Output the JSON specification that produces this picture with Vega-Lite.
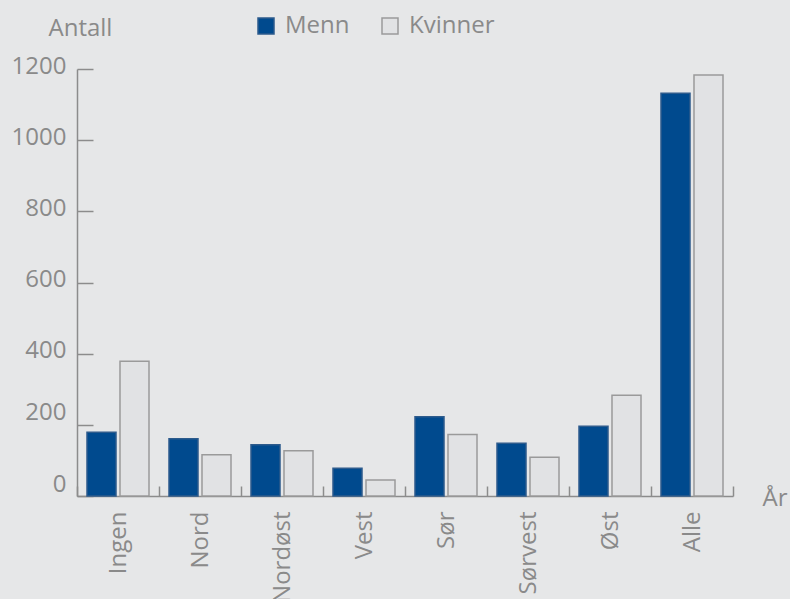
{
  "$schema": "https://vega.github.io/schema/vega-lite/v6.json",
  "width": 656,
  "height": 427,
  "autosize": "none",
  "padding": {"left": 77, "top": 69, "right": 57, "bottom": 103},
  "background": "#e6e7e8",
  "config": {
    "view": {"stroke": null},
    "font": "Open Sans",
    "axis": {"labelFont": "Open Sans", "titleFont": "Open Sans", "labelColor": "#8a8a8a", "titleColor": "#8a8a8a", "domainColor": "#8c8c8c", "tickColor": "#8c8c8c", "domainWidth": 1.5, "tickWidth": 1.5, "labelFontSize": 24, "titleFontSize": 24, "titleFontWeight": "normal", "grid": false}
  },
  "data": {
    "values": [
      {"region": "Ingen", "kjonn": "Menn", "antall": 179},
      {"region": "Ingen", "kjonn": "Kvinner", "antall": 379},
      {"region": "Nord", "kjonn": "Menn", "antall": 161},
      {"region": "Nord", "kjonn": "Kvinner", "antall": 116},
      {"region": "Nordøst", "kjonn": "Menn", "antall": 144},
      {"region": "Nordøst", "kjonn": "Kvinner", "antall": 127},
      {"region": "Vest", "kjonn": "Menn", "antall": 78},
      {"region": "Vest", "kjonn": "Kvinner", "antall": 45},
      {"region": "Sør", "kjonn": "Menn", "antall": 223},
      {"region": "Sør", "kjonn": "Kvinner", "antall": 173},
      {"region": "Sørvest", "kjonn": "Menn", "antall": 148},
      {"region": "Sørvest", "kjonn": "Kvinner", "antall": 109},
      {"region": "Øst", "kjonn": "Menn", "antall": 196},
      {"region": "Øst", "kjonn": "Kvinner", "antall": 283},
      {"region": "Alle", "kjonn": "Menn", "antall": 1132},
      {"region": "Alle", "kjonn": "Kvinner", "antall": 1183}
    ]
  },
  "mark": {"type": "bar", "strokeWidth": 1.5},
  "encoding": {
    "x": {
      "field": "region", "type": "nominal",
      "sort": ["Ingen", "Nord", "Nordøst", "Vest", "Sør", "Sørvest", "Øst", "Alle"],
      "scale": {"paddingInner": 0, "paddingOuter": 0},
      "axis": {"title": "År", "titleAlign": "left", "titleBaseline": "middle", "titleX": 685, "titleY": 2, "titleAngle": 0, "labelAngle": -90, "labelAlign": "right", "labelBaseline": "middle", "tickBand": "extent", "tickSize": -10, "labelPadding": 25}
    },
    "xOffset": {
      "field": "kjonn", "type": "nominal", "sort": ["Menn", "Kvinner"],
      "scale": {"paddingInner": 0.121, "paddingOuter": 0.303}
    },
    "y": {
      "field": "antall", "type": "quantitative",
      "scale": {"domain": [0, 1200], "nice": false},
      "axis": {"title": "Antall", "titleAngle": 0, "titleAlign": "left", "titleBaseline": "alphabetic", "titleX": -29, "titleY": -34, "values": [0, 200, 400, 600, 800, 1000, 1200], "format": "d", "tickSize": -16, "labelPadding": 27, "labelOffset": {"expr": "datum.value <= 200 ? -12 : -3"}}
    },
    "color": {
      "field": "kjonn", "type": "nominal", "sort": ["Menn", "Kvinner"],
      "scale": {"domain": ["Menn", "Kvinner"], "range": ["#004a8e", "#e1e2e4"]},
      "legend": {"title": null, "orient": "none", "legendX": 177, "legendY": -55, "direction": "horizontal", "symbolType": "square", "symbolSize": 256, "symbolStrokeWidth": 1.5, "labelFont": "Open Sans", "labelFontSize": 24, "labelColor": "#8a8a8a", "labelOffset": 7, "columnPadding": 28, "symbolOpacity": 1}
    },
    "stroke": {
      "field": "kjonn", "type": "nominal", "sort": ["Menn", "Kvinner"],
      "scale": {"domain": ["Menn", "Kvinner"], "range": ["#2d5b8c", "#9a9a9a"]}
    }
  }
}
